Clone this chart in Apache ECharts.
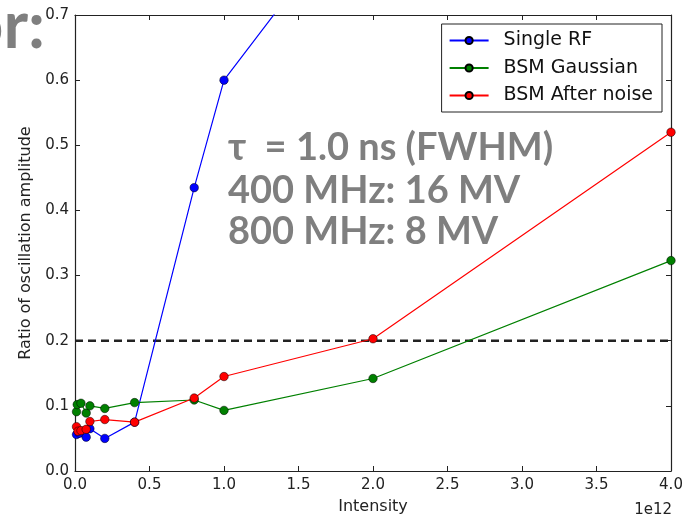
<!DOCTYPE html>
<html>
<head>
<meta charset="utf-8">
<script src="https://cdn.jsdelivr.net/npm/echarts@6/dist/echarts.min.js"></script>
<style>
html,body{margin:0;padding:0;background:#fff;}
#chart{width:693px;height:520px;}
</style>
</head>
<body>
<div id="chart"></div>
<script>
// Intensity in units of 1e12
const singleRF_x = [0.01, 0.03, 0.075, 0.1, 0.2, 0.4, 0.8, 1.0, 2.0];
const singleRF_y = [0.056, 0.058, 0.052, 0.065, 0.050, 0.075, 0.435, 0.600, 0.900];

const bsmGauss_x = [0.01, 0.015, 0.04, 0.075, 0.1, 0.2, 0.4, 0.8, 1.0, 2.0, 4.0];
const bsmGauss_y = [0.091, 0.102, 0.104, 0.089, 0.100, 0.096, 0.105, 0.109, 0.093, 0.142, 0.323];

const bsmNoise_x = [0.01, 0.02, 0.04, 0.075, 0.1, 0.2, 0.4, 0.8, 1.0, 2.0, 4.0];
const bsmNoise_y = [0.068, 0.061, 0.062, 0.064, 0.076, 0.079, 0.075, 0.112, 0.145, 0.203, 0.520];

const threshold_x = [0, 4.0];
const threshold_y = [0.2, 0.2];

const xTicks = [0.0, 0.5, 1.0, 1.5, 2.0, 2.5, 3.0, 3.5, 4.0];
const yTicks = [0.0, 0.1, 0.2, 0.3, 0.4, 0.5, 0.6, 0.7];

const seriesNames = ['Single RF', 'BSM Gaussian', 'BSM After noise'];
const annotationLines = ['\u03c4  = 1.0 ns (FWHM)', '400 MHz: 16 MV', '800 MHz: 8 MV'];

function zip(xs, ys){ return xs.map((x,i)=>[x, ys[i]]); }

const chart = echarts.init(document.getElementById('chart'), null, {renderer:'canvas'});
const FONT = 'DejaVu Sans';
const axisCommon = {
  type:'value',
  axisLine:{show:true, onZero:false, lineStyle:{color:'#222', width:1.2}},
  axisTick:{show:true, inside:true, length:5, lineStyle:{color:'#222', width:1}},
  splitLine:{show:false}
};
function mk(name, xs, ys, color){
  return {
    name, type:'line', data: zip(xs, ys), xAxisIndex:0, yAxisIndex:0,
    symbol:'circle', symbolSize:8.5, clip:true,
    lineStyle:{color, width:1.2},
    itemStyle:{color, borderColor:'#000', borderWidth:0.5},
    emphasis:{disabled:true}, z:3
  };
}
const option = {
  animation:false,
  backgroundColor:'#fff',
  grid:{left:75, right:22, top:15, bottom:46, containLabel:false},
  xAxis:[
    Object.assign({}, axisCommon, {
      position:'bottom', min:xTicks[0], max:xTicks[xTicks.length-1], interval:0.5,
      axisLabel:{show:true, color:'#222', fontFamily:FONT, fontSize:15, margin:7,
        formatter:v=>v.toFixed(1)},
      name:'Intensity', nameLocation:'middle', nameGap:28,
      nameTextStyle:{color:'#222', fontFamily:FONT, fontSize:16}
    }),
    Object.assign({}, axisCommon, {
      position:'top', min:xTicks[0], max:xTicks[xTicks.length-1], interval:0.5,
      axisLabel:{show:false}
    })
  ],
  yAxis:[
    Object.assign({}, axisCommon, {
      position:'left', min:yTicks[0], max:yTicks[yTicks.length-1], interval:0.1,
      axisLabel:{show:true, color:'#222', fontFamily:FONT, fontSize:15, margin:6,
        formatter:v=>v.toFixed(1)},
      name:'Ratio of oscillation amplitude', nameLocation:'middle', nameGap:31,
      nameTextStyle:{color:'#222', fontFamily:FONT, fontSize:16}
    }),
    Object.assign({}, axisCommon, {
      position:'right', min:yTicks[0], max:yTicks[yTicks.length-1], interval:0.1,
      axisLabel:{show:false}
    })
  ],
  legend:{
    show:true, orient:'vertical', right:31, top:24,
    data: seriesNames,
    backgroundColor:'#fff', borderColor:'#222', borderWidth:1, borderRadius:0,
    padding:[7,9,7,7], itemWidth:39, itemHeight:9, itemGap:8.5,
    textStyle:{fontFamily:FONT, fontSize:19, color:'#111', lineHeight:19, padding:[0,0,0,10]}
  },
  series:[
    {
      name:'threshold', type:'line', data: zip(threshold_x, threshold_y),
      symbol:'none', lineStyle:{color:'#222', width:2.5, type:[8,5]},
      emphasis:{disabled:true}, z:2, silent:true
    },
    mk(seriesNames[0], singleRF_x, singleRF_y, '#0000ff'),
    mk(seriesNames[1], bsmGauss_x, bsmGauss_y, '#008000'),
    mk(seriesNames[2], bsmNoise_x, bsmNoise_y, '#ff0000')
  ],
  graphic:[
    {type:'text', x:672, y:510, style:{text:'1e12', fontFamily:FONT, fontSize:15, fill:'#222', textAlign:'right', textVerticalAlign:'middle'}},
    {type:'text', x:45, y:60, style:{text:'or:', fontFamily:'Lato', fontWeight:'bold', fontSize:66, fill:'#7f7f7f', textAlign:'right', textVerticalAlign:'bottom'}, z:10},
    {type:'text', x:228, y:148, style:{text:annotationLines[0], fontFamily:'Lato', fontWeight:'bold', fontSize:38, fill:'#7f7f7f', textVerticalAlign:'middle'}, z:10},
    {type:'text', x:228, y:191, style:{text:annotationLines[1], fontFamily:'Lato', fontWeight:'bold', fontSize:38, fill:'#7f7f7f', textVerticalAlign:'middle'}, z:10},
    {type:'text', x:228, y:232, style:{text:annotationLines[2], fontFamily:'Lato', fontWeight:'bold', fontSize:38, fill:'#7f7f7f', textVerticalAlign:'middle'}, z:10}
  ]
};
chart.setOption(option);
</script>
</body>
</html>
